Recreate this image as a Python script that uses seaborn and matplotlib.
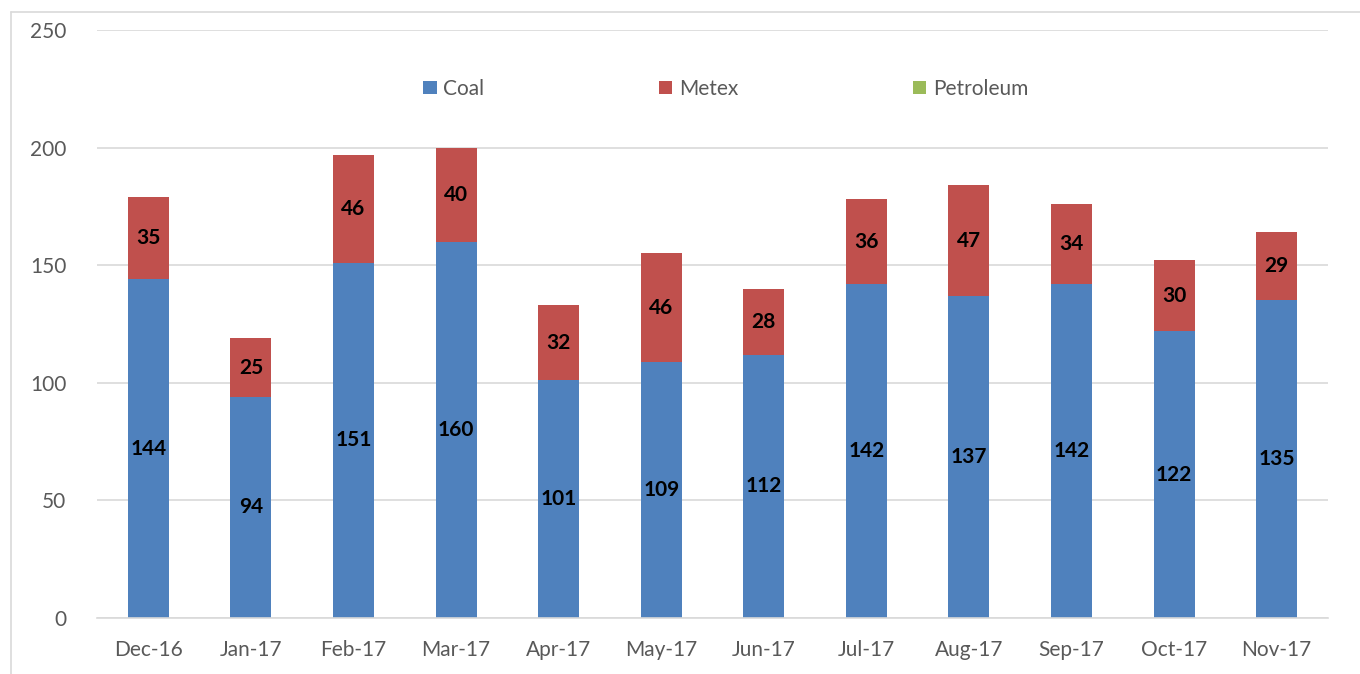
import matplotlib
matplotlib.use("Agg")
import matplotlib.pyplot as plt
import seaborn as sns
import pandas as pd
import numpy as np
from matplotlib.patches import Patch
from matplotlib.lines import Line2D

months = ["Dec-16", "Jan-17", "Feb-17", "Mar-17", "Apr-17", "May-17",
          "Jun-17", "Jul-17", "Aug-17", "Sep-17", "Oct-17", "Nov-17"]
coal = [144, 94, 151, 160, 101, 109, 112, 142, 137, 142, 122, 135]
metex = [35, 25, 46, 40, 32, 46, 28, 36, 47, 34, 30, 29]
petroleum = [0, 0, 0, 0, 0, 0, 0, 0, 0, 0, 0, 0]

C_COAL = "#4F81BD"
C_METEX = "#C0504D"
C_PET = "#9BBB59"
GRAY = "#595959"

sns.set_theme(style="white")
plt.rcParams["font.family"] = ["Lato", "DejaVu Sans"]

df = pd.DataFrame({"month": months, "coal": coal, "metex": metex, "petroleum": petroleum})
df["cm"] = df["coal"] + df["metex"]
df["total"] = df["cm"] + df["petroleum"]

fig = plt.figure(figsize=(13.6, 6.74), dpi=100)
ax = fig.add_axes([97/1360, 1-618/674, (1328-97)/1360, (618-30)/674])

for col, c in [("total", C_PET), ("cm", C_METEX), ("coal", C_COAL)]:
    sns.barplot(data=df, x="month", y=col, color=c, saturation=1, width=0.4,
                ax=ax, zorder=2, linewidth=0, edgecolor="none")

ax.set_ylim(0, 250)
ax.set_xlim(-0.5, len(months) - 0.5)
ax.set_yticks(np.arange(0, 251, 50))
ax.yaxis.grid(True, color="#D9D9D9", linewidth=1.2, zorder=0)
ax.set_axisbelow(True)
for s in ["top", "right", "left"]:
    ax.spines[s].set_visible(False)
ax.spines["bottom"].set_color("#D9D9D9")
ax.spines["bottom"].set_linewidth(1.2)
ax.set_xlabel("")
ax.set_ylabel("")
ax.tick_params(axis="both", length=0, labelsize=15, colors=GRAY)
ax.tick_params(axis="x", pad=16)
ax.tick_params(axis="y", pad=22)

for i in range(len(months)):
    ax.text(i, coal[i] / 2, str(coal[i]), ha="center", va="center",
            fontsize=15, fontweight="bold", color="black", zorder=3)
    ax.text(i, coal[i] + metex[i] / 2, str(metex[i]), ha="center", va="center",
            fontsize=15, fontweight="bold", color="black", zorder=3)

handles = [Patch(facecolor=C_COAL, edgecolor="none"),
           Patch(facecolor=C_METEX, edgecolor="none"),
           Patch(facecolor=C_PET, edgecolor="none")]
leg = ax.legend(handles, ["Coal", "Metex", "Petroleum"], ncol=3, loc="center",
                bbox_to_anchor=(0.5106, 0.9), frameon=False, fontsize=15,
                handlelength=0.65, handleheight=0.65, handletextpad=0.3,
                columnspacing=8.4)
for t in leg.get_texts():
    t.set_color(GRAY)

# outer chart border (left and top visible)
fig.add_artist(Line2D([11/1360, 11/1360], [0, 1-12/674], color="#D9D9D9", linewidth=1.2,
                      transform=fig.transFigure))
fig.add_artist(Line2D([11/1360, 1], [1-12/674, 1-12/674], color="#D9D9D9", linewidth=1.2,
                      transform=fig.transFigure))

fig.savefig("out.png", dpi=100)
